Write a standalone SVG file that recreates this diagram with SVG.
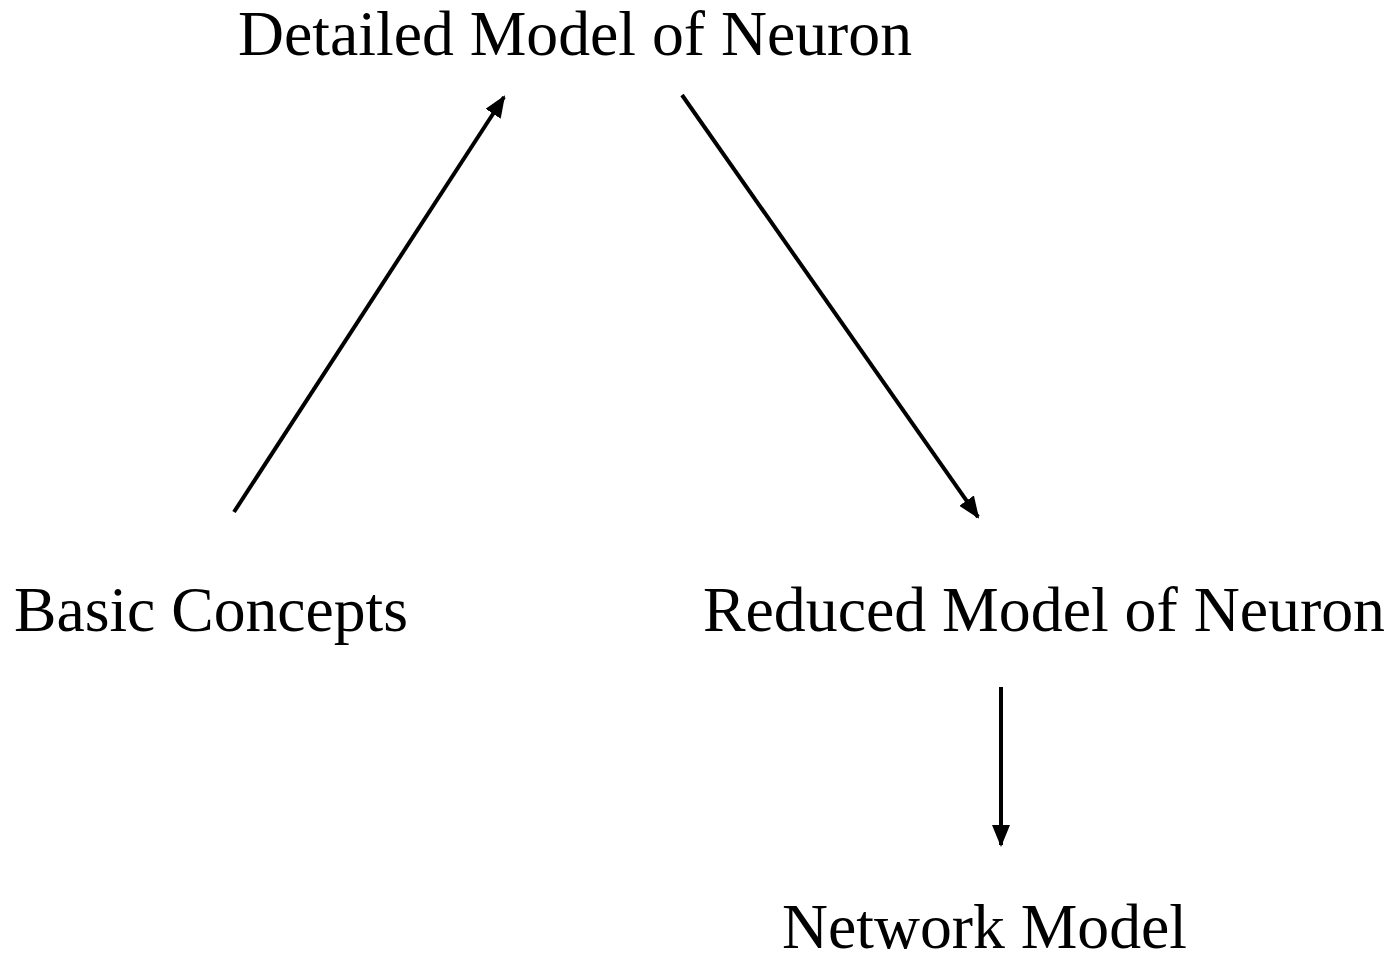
<svg xmlns="http://www.w3.org/2000/svg" width="1395" height="957" viewBox="0 0 1395 957">
<style>
text{font-family:"Liberation Serif","Times New Roman",serif;font-size:64px;fill:#000}
.c{stroke:#000;stroke-width:4;fill:none}
</style>
<defs>
<marker id="ah" viewBox="0 0 22 18" refX="20" refY="9" markerWidth="22" markerHeight="18" markerUnits="userSpaceOnUse" orient="auto">
<path d="M0,0 L22,9 L0,18 Z" fill="#000"/>
</marker>
</defs>
<rect width="1395" height="957" fill="#fff"/>
<g id="connectors">
<line class="c" x1="234" y1="512" x2="504" y2="97" marker-end="url(#ah)"/>
<line class="c" x1="682" y1="95" x2="978" y2="517" marker-end="url(#ah)"/>
<line class="c" x1="1001" y1="687" x2="1001" y2="845" marker-end="url(#ah)"/>
</g>
<g id="detailed"><text x="238" y="55" textLength="674" lengthAdjust="spacingAndGlyphs">Detailed Model of Neuron</text></g>
<g id="basic"><text x="14" y="631" textLength="394" lengthAdjust="spacingAndGlyphs">Basic Concepts</text></g>
<g id="reduced"><text x="703" y="631" textLength="682" lengthAdjust="spacingAndGlyphs">Reduced Model of Neuron</text></g>
<g id="network"><text x="782" y="948" textLength="405" lengthAdjust="spacingAndGlyphs">Network Model</text></g>
</svg>
